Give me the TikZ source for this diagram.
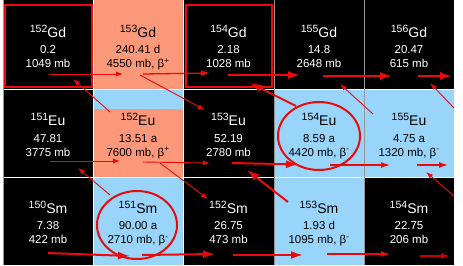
\documentclass[tikz,border=0pt]{standalone}
\usepackage{fontspec}
\setmainfont{Liberation Sans}
\usetikzlibrary{arrows.meta}
\definecolor{salm}{RGB}{252,152,122}
\definecolor{lblue}{RGB}{153,212,250}
\definecolor{arrred}{RGB}{235,10,10}
\definecolor{darkred}{RGB}{200,0,0}
\definecolor{gridgray}{RGB}{150,150,150}
\newcommand{\isolab}[2]{\raisebox{5pt}{\fontsize{10.5}{10.5}\selectfont #1}{\fontsize{14}{14}\selectfont #2}}
\tikzset{
  lab/.style={anchor=base, inner sep=0pt},
  val/.style={anchor=base, inner sep=0pt, font=\fontsize{11.5}{12}\selectfont},
  onblack/.style={text=white},
  oncol/.style={text=black},
  thickarr/.style={draw=arrred, line width=2pt, -{Latex[length=12pt,width=8pt]}},
  medarr/.style={draw=arrred, line width=1.3pt, -{Latex[length=9pt,width=6pt]}},
  thinarr/.style={draw=arrred, line width=0.9pt, -{Latex[length=7pt,width=5pt]}},
  redbox/.style={draw=arrred, line width=2pt},
  ring/.style={draw=arrred, line width=2pt},
}
\begin{document}
\begin{tikzpicture}[x=1pt,y=-1pt]
\useasboundingbox (0,0) rectangle (463,265);
\fill[white] (0,0) rectangle (463,265);
% cell fills
\fill[black] (3,0) rectangle (93,89);
\fill[salm] (93,0) rectangle (183,89);
\fill[black] (183,0) rectangle (454,89);
\fill[black] (3,89) rectangle (93,177);
\fill[lblue] (93,89) rectangle (183,109);
\fill[salm] (93,109) rectangle (183,177);
\fill[black] (183,89) rectangle (274,177);
\fill[lblue] (274,89) rectangle (454,177);
\fill[black] (3,177) rectangle (93,265);
\fill[lblue] (93,177) rectangle (183,265);
\fill[black] (183,177) rectangle (274,265);
\fill[lblue] (274,177) rectangle (364,265);
\fill[black] (364,177) rectangle (454,265);
% grid lines
\draw[white, line width=1pt] (3,89) -- (454,89) (3,177) -- (454,177);
\draw[white, line width=1pt] (93,0) -- (93,265) (183,0) -- (183,265);
\draw[gridgray, line width=0.8pt] (3.4,0) -- (3.4,265) (274,0) -- (274,265) (364,0) -- (364,265);
% red boxes
\draw[redbox] (4.5,4.5) rectangle (91.5,87);
\draw[redbox] (185.5,4.5) rectangle (271.5,87);
% row 1 texts
\node[lab,onblack] (gd152) at (48,37) {\isolab{152}{Gd}};
\node[val,onblack] (gd152a) at (48,53.5) {0.2};
\node[val,onblack] (gd152b) at (48,67.5) {1049 mb};
\node[lab,oncol] (gd153) at (138,37) {\isolab{153}{Gd}};
\node[val,oncol] (gd153a) at (138,53.5) {240.41 d};
\node[val,oncol] (gd153b) at (138,67.5) {4550 mb, β\textsuperscript{+}};
\node[lab,onblack] (gd154) at (228.5,37) {\isolab{154}{Gd}};
\node[val,onblack] (gd154a) at (228.5,53.5) {2.18};
\node[val,onblack] (gd154b) at (228.5,67.5) {1028 mb};
\node[lab,onblack] (gd155) at (319,37) {\isolab{155}{Gd}};
\node[val,onblack] (gd155a) at (319,53.5) {14.8};
\node[val,onblack] (gd155b) at (319,67.5) {2648 mb};
\node[lab,onblack] (gd156) at (409,37) {\isolab{156}{Gd}};
\node[val,onblack] (gd156a) at (409,53.5) {20.47};
\node[val,onblack] (gd156b) at (409,67.5) {615 mb};
% row 2 texts
\node[lab,onblack] (eu151) at (48,125.7) {\isolab{151}{Eu}};
\node[val,onblack] (eu151a) at (48,142.3) {47.81};
\node[val,onblack] (eu151b) at (48,156.3) {3775 mb};
\node[lab,oncol] (eu152) at (138,125.7) {\isolab{152}{Eu}};
\node[val,oncol] (eu152a) at (138,142.3) {13.51 a};
\node[val,oncol] (eu152b) at (138,156.3) {7600 mb, β\textsuperscript{+}};
\node[lab,onblack] (eu153) at (228.5,125.7) {\isolab{153}{Eu}};
\node[val,onblack] (eu153a) at (228.5,142.3) {52.19};
\node[val,onblack] (eu153b) at (228.5,156.3) {2780 mb};
\node[lab,oncol] (eu154) at (319,125.7) {\isolab{154}{Eu}};
\node[val,oncol] (eu154a) at (319,142.3) {8.59 a};
\node[val,oncol] (eu154b) at (319,156.3) {4420 mb, β\textsuperscript{-}};
\node[lab,oncol] (eu155) at (409,125.7) {\isolab{155}{Eu}};
\node[val,oncol] (eu155a) at (409,142.3) {4.75 a};
\node[val,oncol] (eu155b) at (409,156.3) {1320 mb, β\textsuperscript{-}};
% row 3 texts
\node[lab,onblack] (sm150) at (48,213.3) {\isolab{150}{Sm}};
\node[val,onblack] (sm150a) at (48,229.5) {7.38};
\node[val,onblack] (sm150b) at (48,243.5) {422 mb};
\node[lab,oncol] (sm151) at (138,213.3) {\isolab{151}{Sm}};
\node[val,oncol] (sm151a) at (138,229.5) {90.00 a};
\node[val,oncol] (sm151b) at (138,243.5) {2710 mb, β\textsuperscript{-}};
\node[lab,onblack] (sm152) at (228.5,213.3) {\isolab{152}{Sm}};
\node[val,onblack] (sm152a) at (228.5,229.5) {26.75};
\node[val,onblack] (sm152b) at (228.5,243.5) {473 mb};
\node[lab,oncol] (sm153) at (319,213.3) {\isolab{153}{Sm}};
\node[val,oncol] (sm153a) at (319,229.5) {1.93 d};
\node[val,oncol] (sm153b) at (319,243.5) {1095 mb, β\textsuperscript{-}};
\node[lab,onblack] (sm154) at (409,213.3) {\isolab{154}{Sm}};
\node[val,onblack] (sm154a) at (409,229.5) {22.75};
\node[val,onblack] (sm154b) at (409,243.5) {206 mb};
% circles
\coordinate (ring1) at (319,136);
\coordinate (ring2) at (137,225);
\draw[ring] (ring1) ellipse [x radius=41pt, y radius=34pt];
\draw[ring] (ring2) ellipse [x radius=40pt, y radius=34pt];
% arrow end points
\coordinate (a1s) at (49,74);   \coordinate (a1e) at (123,74);
\coordinate (a2s) at (143,74);  \coordinate (a2e) at (210,73);
\coordinate (a3s) at (228,75);  \coordinate (a3e) at (300,75);
\coordinate (a4s) at (323,76);  \coordinate (a4e) at (392,76);
\coordinate (a5s) at (418,76);  \coordinate (a5e) at (452,76);
\coordinate (b1s) at (50,161);  \coordinate (b1e) at (120,161);
\coordinate (b2s) at (143,162); \coordinate (b2e) at (210,163);
\coordinate (b3s) at (232,163); \coordinate (b3e) at (298,164.5);
\coordinate (b4s) at (330,165); \coordinate (b4e) at (390,165);
\coordinate (b5s) at (417,165); \coordinate (b5e) at (448,165);
\coordinate (c1s) at (48,253);  \coordinate (c1e) at (130,256);
\coordinate (c2s) at (142,255); \coordinate (c2e) at (215,254);
\coordinate (c3s) at (233,255); \coordinate (c3e) at (303,255);
\coordinate (c4s) at (327,254); \coordinate (c4e) at (390,254);
\coordinate (c5s) at (420,256); \coordinate (c5e) at (450,256);
\coordinate (d1s) at (110,112); \coordinate (d1e) at (73,79);
\coordinate (d2s) at (140,75);  \coordinate (d2e) at (205,110);
\coordinate (d3s) at (160,163); \coordinate (d3e) at (208,199);
\coordinate (d4s) at (110,195); \coordinate (d4e) at (78,168);
\coordinate (d5s) at (296,106); \coordinate (d5e) at (250,83);
\coordinate (d6s) at (373,114); \coordinate (d6e) at (340,84);
\coordinate (d7s) at (454,108); \coordinate (d7e) at (430,83);
\coordinate (d8s) at (288,202); \coordinate (d8e) at (247,170);
\coordinate (d9s) at (454,196); \coordinate (d9e) at (426,172);
% horizontal arrows
\draw[thinarr] (a1s) -- (a1e);
\draw[medarr] (a2s) -- (a2e);
\draw[thickarr] (a3s) -- (a3e);
\draw[thickarr] (a4s) -- (a4e);
\draw[thickarr] (a5s) -- (a5e);
\draw[thinarr] (b1s) -- (b1e);
\draw[thinarr] (b2s) -- (b2e);
\draw[thickarr] (b3s) -- (b3e);
\draw[medarr] (b4s) -- (b4e);
\draw[medarr] (b5s) -- (b5e);
\draw[thickarr] (c1s) -- (c1e);
\draw[thickarr] (c2s) -- (c2e);
\draw[thickarr] (c3s) -- (c3e);
\draw[medarr] (c4s) -- (c4e);
\draw[medarr, draw=darkred] (c5s) -- (c5e);
% diagonal arrows
\draw[thinarr] (d1s) -- (d1e);
\draw[thinarr] (d2s) -- (d2e);
\draw[thinarr] (d3s) -- (d3e);
\draw[thinarr] (d4s) -- (d4e);
\draw[thickarr] (d5s) -- (d5e);
\draw[thinarr] (d6s) -- (d6e);
\draw[thinarr] (d7s) -- (d7e);
\draw[thickarr] (d8s) -- (d8e);
\draw[thinarr] (d9s) -- (d9e);
\end{tikzpicture}
\end{document}
